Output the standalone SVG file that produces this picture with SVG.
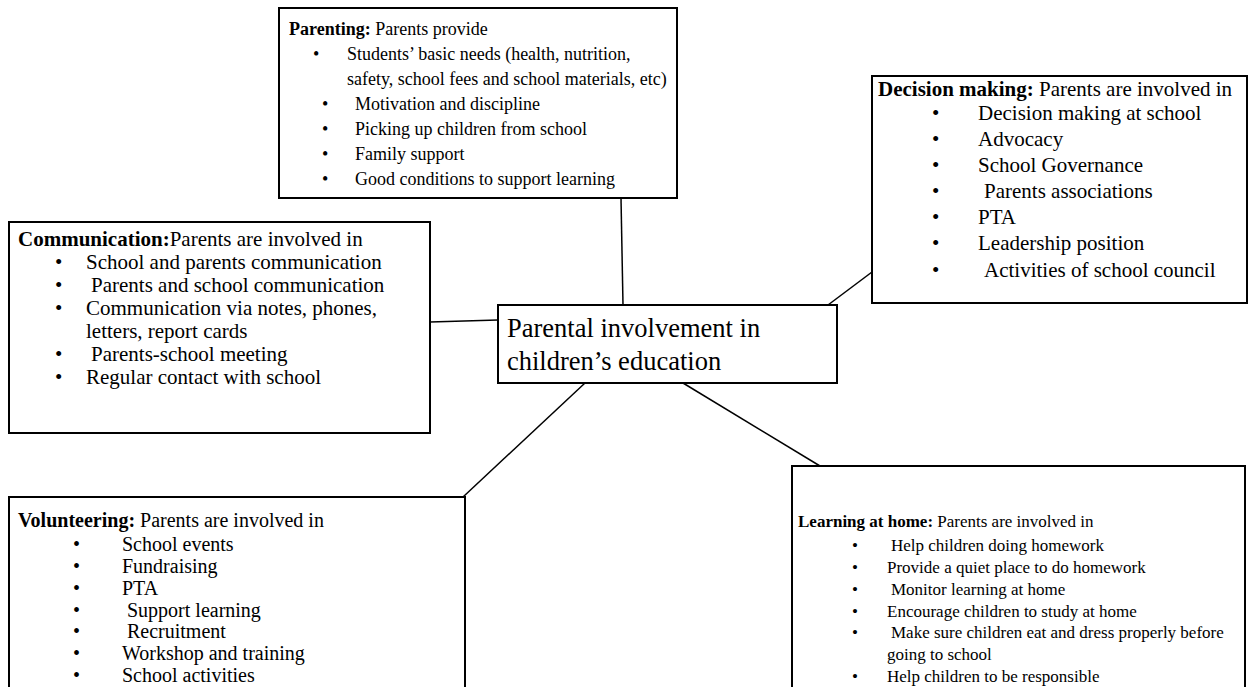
<svg xmlns="http://www.w3.org/2000/svg" width="1253" height="687" viewBox="0 0 1253 687">
<style>
.box{fill:#fff;stroke:#000;stroke-width:2}
.t{font-family:"Liberation Serif","Times New Roman",serif;font-size:21px;fill:#000}
.s{font-size:18px}
.l{font-size:17px}
.v{font-size:20px}
.c{font-family:"Liberation Serif","Times New Roman",serif;font-size:26.5px;fill:#000}
.b{font-weight:bold}
.ln{stroke:#000;stroke-width:1.5;fill:none}
</style>
<rect width="1253" height="687" fill="#fff"/>
<g id="connectors">
<line class="ln" x1="621" y1="198" x2="623" y2="305"/>
<line class="ln" x1="430" y1="322" x2="498" y2="320"/>
<line class="ln" x1="828" y1="305" x2="872" y2="272"/>
<line class="ln" x1="585" y1="383" x2="463" y2="497"/>
<line class="ln" x1="683" y1="383" x2="820" y2="466"/>
</g>
<g id="parenting">
<rect class="box" x="279" y="8" width="398" height="190"/>
<text class="t s" x="289" y="35"><tspan class="b">Parenting:</tspan> Parents provide</text>
<text class="t s" x="313" y="60">•</text>
<text class="t s" x="347" y="60">Students’ basic needs (health, nutrition,</text>
<text class="t s" x="347" y="85">safety, school fees and school materials, etc)</text>
<text class="t s" x="322" y="110">•</text><text class="t s" x="355" y="110">Motivation and discipline</text>
<text class="t s" x="322" y="135">•</text><text class="t s" x="355" y="135">Picking up children from school</text>
<text class="t s" x="322" y="160">•</text><text class="t s" x="355" y="160">Family support</text>
<text class="t s" x="322" y="185">•</text><text class="t s" x="355" y="185">Good conditions to support learning</text>
</g>
<g id="decision">
<rect class="box" x="872" y="76" width="375" height="227"/>
<text class="t" x="878" y="96"><tspan class="b">Decision making:</tspan> Parents are involved in</text>
<text class="t" x="932" y="120">•</text><text class="t" x="978" y="120">Decision making at school</text>
<text class="t" x="932" y="146">•</text><text class="t" x="978" y="146">Advocacy</text>
<text class="t" x="932" y="172">•</text><text class="t" x="978" y="172">School Governance</text>
<text class="t" x="932" y="198">•</text><text class="t" x="984" y="198">Parents associations</text>
<text class="t" x="932" y="224">•</text><text class="t" x="978" y="224">PTA</text>
<text class="t" x="932" y="250">•</text><text class="t" x="978" y="250">Leadership position</text>
<text class="t" x="932" y="277">•</text><text class="t" x="984" y="277">Activities of school council</text>
</g>
<g id="communication">
<rect class="box" x="9" y="222" width="421" height="211"/>
<text class="t" x="18" y="246"><tspan class="b">Communication:</tspan>Parents are involved in</text>
<text class="t" x="55" y="269">•</text><text class="t" x="86" y="269">School and parents communication</text>
<text class="t" x="55" y="292">•</text><text class="t" x="91" y="292">Parents and school communication</text>
<text class="t" x="55" y="315">•</text><text class="t" x="86" y="315">Communication via notes, phones,</text>
<text class="t" x="86" y="338">letters, report cards</text>
<text class="t" x="55" y="361">•</text><text class="t" x="91" y="361">Parents-school meeting</text>
<text class="t" x="55" y="384">•</text><text class="t" x="86" y="384">Regular contact with school</text>
</g>
<g id="center">
<rect class="box" x="498" y="305" width="339" height="78"/>
<text class="c" x="507" y="337">Parental involvement in</text>
<text class="c" x="507" y="370">children’s education</text>
</g>
<g id="volunteering">
<rect class="box" x="9" y="497" width="456" height="200"/>
<text class="t v" x="18" y="527"><tspan class="b">Volunteering:</tspan> Parents are involved in</text>
<text class="t v" x="73" y="551">•</text><text class="t v" x="122" y="551">School events</text>
<text class="t v" x="73" y="573">•</text><text class="t v" x="122" y="573">Fundraising</text>
<text class="t v" x="73" y="595">•</text><text class="t v" x="122" y="595">PTA</text>
<text class="t v" x="73" y="617">•</text><text class="t v" x="127" y="617">Support learning</text>
<text class="t v" x="73" y="638">•</text><text class="t v" x="127" y="638">Recruitment</text>
<text class="t v" x="73" y="660">•</text><text class="t v" x="122" y="660">Workshop and training</text>
<text class="t v" x="73" y="682">•</text><text class="t v" x="122" y="682">School activities</text>
</g>
<g id="learning">
<rect class="box" x="792" y="466" width="453" height="231"/>
<text class="t l" x="798" y="527"><tspan class="b">Learning at home:</tspan> Parents are involved in</text>
<text class="t l" x="852" y="551">•</text><text class="t l" x="891" y="551">Help children doing homework</text>
<text class="t l" x="852" y="573">•</text><text class="t l" x="887" y="573">Provide a quiet place to do homework</text>
<text class="t l" x="852" y="595">•</text><text class="t l" x="891" y="595">Monitor learning at home</text>
<text class="t l" x="852" y="617">•</text><text class="t l" x="887" y="617">Encourage children to study at home</text>
<text class="t l" x="852" y="638">•</text><text class="t l" x="891" y="638">Make sure children eat and dress properly before</text>
<text class="t l" x="887" y="660">going to school</text>
<text class="t l" x="852" y="682">•</text><text class="t l" x="887" y="682">Help children to be responsible</text>
</g>
</svg>
